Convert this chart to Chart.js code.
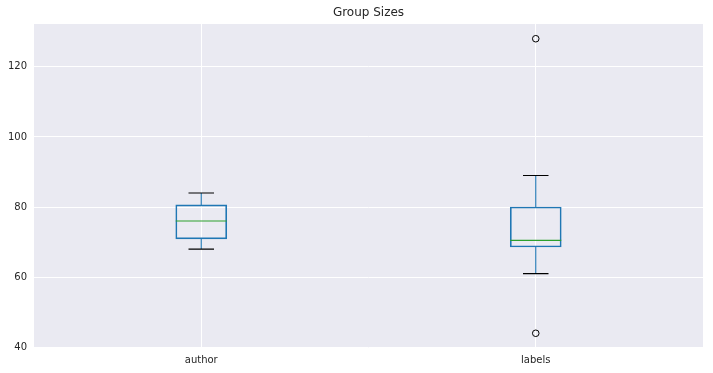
<!DOCTYPE html>
<html lang="en">
<head>
<meta charset="UTF-8">
<title>Group Sizes</title>
<script src="https://cdn.jsdelivr.net/npm/chart.js@4/dist/chart.umd.min.js"></script>
<style>
  * { margin: 0; padding: 0; }
  body { background: #fff; width: 713px; height: 373px; overflow: hidden; }
  #wrap { width: 713px; height: 373px; }
</style>
</head>
<body>
<div id="wrap"><canvas id="chart"></canvas></div>
<script>
// box plot statistics
const categories = ['author', 'labels'];
const q1 = [70.9, 68.6];
const median = [76, 70.5];
const q3 = [80.6, 80];
const whiskerLow = [68, 61];
const whiskerHigh = [84, 89];
const outlierCats = ['labels', 'labels'];
const outlierVals = [128, 44];
const yTicks = [40, 60, 80, 100, 120];

const FONT = "'DejaVu Sans', sans-serif";
const TEXT = '#262626';

// plot background
const bgPlugin = {
  id: 'plotBg',
  beforeDraw(chart) {
    const { ctx, chartArea: a } = chart;
    ctx.save();
    ctx.fillStyle = '#EAEAF2';
    ctx.fillRect(a.left, a.top, a.right - a.left, a.bottom - a.top);
    ctx.restore();
  }
};

// whiskers, caps and medians, positioned through the chart's scales
const whiskerPlugin = {
  id: 'whiskers',
  afterDatasetsDraw(chart) {
    const { ctx, scales: { x, y } } = chart;
    const bars = chart.getDatasetMeta(0).data;
    ctx.save();
    categories.forEach((c, i) => {
      const cx = x.getPixelForValue(i);
      const w = bars[i].width;
      const yq1 = y.getPixelForValue(q1[i]);
      const yq3 = y.getPixelForValue(q3[i]);
      const ylo = y.getPixelForValue(whiskerLow[i]);
      const yhi = y.getPixelForValue(whiskerHigh[i]);
      const ymed = y.getPixelForValue(median[i]);
      ctx.lineWidth = 1.1;
      ctx.strokeStyle = '#1f77b4';
      ctx.beginPath();
      ctx.moveTo(cx, yq3); ctx.lineTo(cx, yhi);
      ctx.moveTo(cx, yq1); ctx.lineTo(cx, ylo);
      ctx.stroke();
      ctx.strokeStyle = '#000';
      ctx.beginPath();
      ctx.moveTo(cx - w / 4, yhi); ctx.lineTo(cx + w / 4, yhi);
      ctx.moveTo(cx - w / 4, ylo); ctx.lineTo(cx + w / 4, ylo);
      ctx.stroke();
      ctx.strokeStyle = '#2ca02c';
      ctx.beginPath();
      ctx.moveTo(cx - w / 2, ymed); ctx.lineTo(cx + w / 2, ymed);
      ctx.stroke();
    });
    ctx.restore();
  }
};

new Chart(document.getElementById('chart'), {
  type: 'bar',
  data: {
    labels: categories,
    datasets: [
      {
        type: 'bar',
        data: categories.map((c, i) => [q1[i], q3[i]]),
        backgroundColor: 'rgba(0,0,0,0)',
        borderColor: '#1f77b4',
        borderWidth: 1,
        borderSkipped: false,
        barThickness: 51
      },
      {
        type: 'line',
        data: outlierVals.map((v, i) => ({ x: outlierCats[i], y: v })),
        showLine: false,
        pointStyle: 'circle',
        pointRadius: 3.3,
        pointBorderWidth: 1,
        pointBorderColor: '#000',
        pointBackgroundColor: 'rgba(0,0,0,0)'
      }
    ]
  },
  options: {
    responsive: true,
    maintainAspectRatio: false,
    animation: false,
    layout: { padding: { left: 0, right: 10, top: 0, bottom: 0 } },
    plugins: {
      legend: { display: false },
      tooltip: { enabled: false },
      title: {
        display: true,
        text: 'Group Sizes',
        fullSize: false,
        color: TEXT,
        font: { family: FONT, size: 12, weight: 'normal' },
        padding: { top: 6, bottom: 3.6 }
      }
    },
    scales: {
      x: {
        offset: true,
        grid: { offset: false, color: '#fff', lineWidth: 1, drawTicks: false },
        border: { display: false },
        ticks: { color: TEXT, font: { family: FONT, size: 10 }, padding: 6 },
        afterFit(scale) { scale.height = 25; }
      },
      y: {
        min: 39.8,
        max: 132.2,
        grid: { color: '#fff', lineWidth: 1, drawTicks: false },
        border: { display: false },
        ticks: { color: TEXT, font: { family: FONT, size: 10 }, padding: 7 },
        afterBuildTicks(scale) { scale.ticks = yTicks.map(v => ({ value: v })); },
        afterFit(scale) { scale.width = 34; }
      }
    }
  },
  plugins: [bgPlugin, whiskerPlugin]
});
</script>
</body>
</html>
